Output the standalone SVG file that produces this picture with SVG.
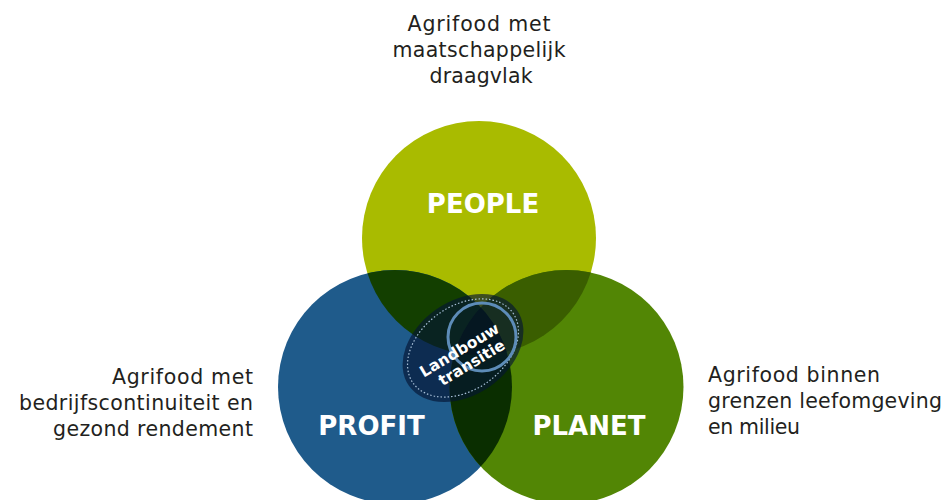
<svg xmlns="http://www.w3.org/2000/svg" width="949" height="500" viewBox="0 0 949 500">
<style>
.lbl{font-family:"DejaVu Sans",sans-serif;font-weight:bold;font-size:26px;fill:#fff;text-anchor:middle}
.txt{font-family:"DejaVu Sans",sans-serif;font-size:20.5px;fill:#231f20}
.lt{font-family:"DejaVu Sans",sans-serif;font-weight:bold;font-size:15.5px;fill:#fff;text-anchor:middle}
</style>
<defs>
<clipPath id="cpPeople"><circle cx="479" cy="238" r="117"/></clipPath>
<clipPath id="cpProfit"><circle cx="395" cy="387" r="117"/></clipPath>
</defs>
<rect width="949" height="500" fill="#fff"/>
<g id="people"><circle cx="479" cy="238" r="117" fill="#a9bb00"/></g>
<g id="profit"><circle cx="395" cy="387" r="117" fill="#1f5b8b"/></g>
<g id="planet"><circle cx="566.5" cy="387" r="117" fill="#528605"/></g>
<g id="overlaps">
<circle cx="395" cy="387" r="117" fill="#133f00" clip-path="url(#cpPeople)"/>
<circle cx="566.5" cy="387" r="117" fill="#3a5e00" clip-path="url(#cpPeople)"/>
<circle cx="566.5" cy="387" r="117" fill="#0a2e00" clip-path="url(#cpProfit)"/>
<g clip-path="url(#cpPeople)"><circle cx="566.5" cy="387" r="117" fill="#061d00" clip-path="url(#cpProfit)"/></g>
</g>
<g id="landbouw">
<ellipse cx="463" cy="348" rx="66" ry="47" transform="rotate(-35 463 348)" fill="#041433" fill-opacity="0.65"/>
<ellipse cx="463" cy="348" rx="61" ry="42" transform="rotate(-35 463 348)" fill="none" stroke="#a8c0d8" stroke-width="1.2" stroke-dasharray="1.5 2"/>
<circle cx="482" cy="337" r="34" fill="none" stroke="#5d8cb8" stroke-width="3"/>
<g transform="translate(466 357) rotate(-31)">
<text class="lt" x="-2" y="-4">Landbouw</text>
<text class="lt" x="2" y="13">transitie</text>
</g>
</g>
<g id="labels">
<text class="lbl" x="483" y="213">PEOPLE</text>
<text class="lbl" x="371.5" y="435">PROFIT</text>
<text class="lbl" x="589" y="435">PLANET</text>
</g>
<g id="text-people">
<text class="txt" x="479" y="31" text-anchor="middle" textLength="143" lengthAdjust="spacing">Agrifood met</text>
<text class="txt" x="479" y="57" text-anchor="middle" textLength="173" lengthAdjust="spacing">maatschappelijk</text>
<text class="txt" x="481" y="83" text-anchor="middle" textLength="103" lengthAdjust="spacing">draagvlak</text>
</g>
<g id="text-profit">
<text class="txt" x="253" y="384" text-anchor="end" textLength="141" lengthAdjust="spacing">Agrifood met</text>
<text class="txt" x="253" y="410" text-anchor="end" textLength="234" lengthAdjust="spacing">bedrijfscontinuiteit en</text>
<text class="txt" x="253" y="436" text-anchor="end" textLength="200" lengthAdjust="spacing">gezond rendement</text>
</g>
<g id="text-planet">
<text class="txt" x="708" y="382" textLength="172" lengthAdjust="spacing">Agrifood binnen</text>
<text class="txt" x="708" y="408" textLength="234" lengthAdjust="spacing">grenzen leefomgeving</text>
<text class="txt" x="708" y="434" textLength="92" lengthAdjust="spacing">en milieu</text>
</g>
</svg>
